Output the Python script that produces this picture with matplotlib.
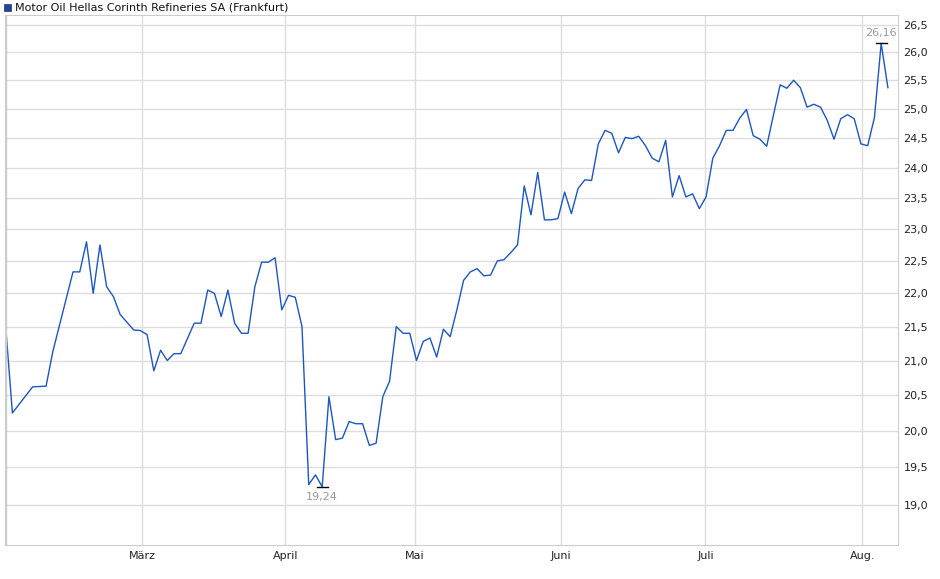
import matplotlib.pyplot as plt
from matplotlib.ticker import FixedLocator, NullLocator

# trading-day index and closing price (EUR)
day = [0, 1, 4, 6, 7, 10, 11, 12, 13, 14, 15, 16, 17, 19, 20, 21, 22, 23, 24, 25,
       26, 28, 29, 30, 31, 32, 33, 34, 35, 36, 37, 38, 39, 40, 41, 42, 43, 44, 45, 46,
       47, 48, 49, 50, 51, 52, 53, 54, 55, 56, 57, 58, 59, 60,
       61, 62, 63, 64, 65, 66, 67, 68, 69, 70, 71, 72, 73, 74, 75, 76, 77, 78, 79, 80,
       81, 82, 83, 84, 85, 86, 87, 88, 89, 90, 91, 92, 93, 94, 95, 96, 97, 98, 99, 100,
       101, 102, 103, 104, 105, 106, 107, 108, 109, 110, 111, 112, 113, 114, 115, 116,
       117, 118, 119, 120, 121, 122, 123, 124, 125, 126, 127, 128, 129, 130, 131]
price = [21.50, 20.25, 20.62, 20.63, 21.13, 22.33, 22.33, 22.80, 22.00, 22.75,
         22.10, 21.95, 21.68, 21.45, 21.44, 21.38, 20.85, 21.15, 21.00, 21.10,
         21.10, 21.55, 21.55, 22.05, 22.00, 21.65, 22.05, 21.55, 21.40, 21.40,
         22.10, 22.48, 22.48, 22.55, 21.75, 21.97, 21.94, 21.50, 19.27, 19.40,
         19.24, 20.48, 19.88, 19.90, 20.13, 20.10, 20.10, 19.80, 19.83, 20.48,
         20.70, 21.50, 21.40, 21.40,
         21.00, 21.28, 21.33, 21.05, 21.46, 21.35, 21.75, 22.20, 22.33, 22.38,
         22.27, 22.28, 22.50, 22.52, 22.63, 22.75, 23.70, 23.23, 23.92, 23.15,
         23.15, 23.17, 23.60, 23.25, 23.66, 23.80, 23.79, 24.40, 24.63, 24.58,
         24.25, 24.51, 24.49, 24.53, 24.37, 24.16, 24.10, 24.46, 23.52, 23.87,
         23.52, 23.57, 23.33, 23.52, 24.16, 24.37, 24.63, 24.63, 24.84, 24.99,
         24.54, 24.48, 24.36, 24.89, 25.42, 25.36, 25.50, 25.37, 25.03, 25.08,
         25.03, 24.80, 24.48, 24.83, 24.90, 24.83, 24.40, 24.37, 24.85, 26.16,
         25.37]

month_pos = [20.3, 41.5, 60.8, 82.5, 103.9, 127.2]
month_labels = ['März', 'April', 'Mai', 'Juni', 'Juli', 'Aug.']
y_ticks = [19.0, 19.5, 20.0, 20.5, 21.0, 21.5, 22.0, 22.5, 23.0, 23.5,
           24.0, 24.5, 25.0, 25.5, 26.0, 26.5]

fig = plt.figure(figsize=(9.4, 5.79), dpi=100)
ax = fig.add_axes([5 / 940, 34 / 579, 893 / 940, 530 / 579])

ax.plot(day, price, color='#1a56c8', lw=1)
ax.set_yscale('log')
ax.set_ylim(18.48, 26.68)
ax.set_xlim(-0.1, 132.5)

ax.yaxis.set_major_locator(FixedLocator(y_ticks))
ax.yaxis.set_minor_locator(NullLocator())
ax.set_yticklabels([f'{v:.1f}'.replace('.', ',') for v in y_ticks])
ax.yaxis.tick_right()
ax.set_xticks(month_pos)
ax.set_xticklabels(month_labels)
ax.tick_params(labelsize=8, length=0, pad=4, colors='#222222')
ax.grid(True, color='#dddddd', lw=1)
ax.set_axisbelow(True)
for s in ax.spines.values():
    s.set_color('#cccccc')
ax.axvline(0, color='#cccccc', lw=1)

# high / low markers
i_hi = price.index(max(price))
i_lo = price.index(min(price))
for i, va, off in [(i_hi, 'bottom', 4), (i_lo, 'top', -4)]:
    ax.plot([day[i] - 0.8, day[i] + 0.8], [price[i]] * 2, color='black', lw=1)
    ax.annotate(f'{price[i]:.2f}'.replace('.', ','), (day[i], price[i]),
                xytext=(0, off), textcoords='offset points', ha='center', va=va,
                fontsize=8, color='#999999')

# legend
fig.patches.append(plt.Rectangle((4 / 940, 1 - 11 / 579), 7 / 940, 7 / 579,
                                 transform=fig.transFigure, facecolor='#1a46a8',
                                 edgecolor='#333333', lw=0.5))
fig.text(15 / 940, 1 - 7 / 579, 'Motor Oil Hellas Corinth Refineries SA (Frankfurt)',
         fontsize=8, va='center', color='#111111')

fig.savefig('out.png', dpi=100)
